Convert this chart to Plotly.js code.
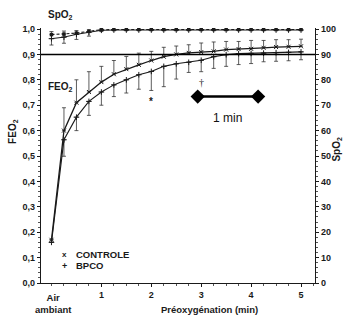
<!DOCTYPE html>
<html>
<head>
<meta charset="utf-8">
<script src="https://cdn.plot.ly/plotly-3.0.1.min.js"></script>
<style>html,body{margin:0;padding:0;background:#fff;}#chart{width:344px;height:320px;}</style>
</head>
<body>
<div id="chart"></div>
<script>
// Time points (min); 0 = "Air ambiant"
const times = [0, 0.25, 0.5, 0.75, 1, 1.25, 1.5, 1.75, 2, 2.25, 2.5, 2.75, 3, 3.25, 3.5, 3.75, 4, 4.25, 4.5, 4.75, 5];

// FEO2 - CONTROLE
const feoControle = [0.17, 0.60, 0.71, 0.752, 0.791, 0.822, 0.842, 0.859, 0.876, 0.891, 0.900, 0.906, 0.909, 0.912, 0.919, 0.921, 0.922, 0.926, 0.929, 0.930, 0.932];
const feoControleErr = [0, 0.09, 0.09, 0.08, 0.062, 0.054, 0.05, 0.046, 0.036, 0.037, 0.033, 0.032, 0.036, 0.037, 0.032, 0.03, 0.033, 0.029, 0.029, 0.028, 0.028];

// FEO2 - BPCO
const feoBpco = [0.16, 0.564, 0.653, 0.715, 0.752, 0.78, 0.80, 0.82, 0.833, 0.853, 0.863, 0.869, 0.877, 0.891, 0.899, 0.903, 0.904, 0.905, 0.907, 0.908, 0.910];
const feoBpcoErr = [0, 0.065, 0.053, 0.055, 0.052, 0.046, 0.052, 0.057, 0.075, 0.08, 0.06, 0.04, 0.045, 0.046, 0.046, 0.043, 0.04, 0.034, 0.034, 0.033, 0.031];

// SpO2 (%)
const spoControle = [97.8, 98.0, 98.4, 99.1, 99.7, 99.8, 99.8, 99.8, 99.8, 99.8, 99.8, 99.8, 99.8, 99.8, 99.8, 99.8, 99.8, 99.8, 99.8, 99.8, 99.8];
const spoControleErr = [1.2, 1.2, 1.0, 0.6, 0.2, 0, 0, 0, 0, 0, 0, 0, 0, 0, 0, 0, 0, 0, 0, 0, 0];
const spoBpco = [96.2, 96.8, 97.9, 98.7, 99.5, 99.6, 99.6, 99.6, 99.6, 99.6, 99.6, 99.6, 99.6, 99.6, 99.6, 99.6, 99.6, 99.6, 99.6, 99.6, 99.6];
const spoBpcoErr = [2.5, 2.4, 2.0, 1.5, 0.5, 0, 0, 0, 0, 0, 0, 0, 0, 0, 0, 0, 0, 0, 0, 0, 0];

// Scale bar "1 min"
const scaleX = [2.93, 4.14];
const scaleY = [0.734, 0.734];

// Ticks
const yTickVals = [0, 0.1, 0.2, 0.3, 0.4, 0.5, 0.6, 0.7, 0.8, 0.9, 1.0];
const yTickText = ["0,0", "0,1", "0,2", "0,3", "0,4", "0,5", "0,6", "0,7", "0,8", "0,9", "1,0"];
const y2TickVals = [0, 10, 20, 30, 40, 50, 60, 70, 80, 90, 100];
const xTickVals = [1, 2, 3, 4, 5];
const legendNames = ["CONTROLE", "BPCO"];
const legendKeys = ["x", "+"];

const zeros = times.map(() => 0);
const ink = "#1a1a1a";
const narrow = "Liberation Sans Narrow, Arial Narrow, Liberation Sans, Arial, sans-serif";
const bold = {family: narrow, size: 9, color: ink, weight: "bold"};

const traces = [
  {x: times, y: feoControle, type: "scatter", mode: "lines+markers", name: legendNames[0],
   line: {color: ink, width: 1.3}, marker: {symbol: "x-thin-open", size: 4, color: ink, line: {width: 1, color: ink}},
   error_y: {type: "data", symmetric: false, array: feoControleErr, arrayminus: zeros, color: "#333", thickness: 0.8, width: 2}},
  {x: times, y: feoBpco, type: "scatter", mode: "lines+markers", name: legendNames[1],
   line: {color: ink, width: 1.1}, marker: {symbol: "cross-thin-open", size: 4, color: ink, line: {width: 1, color: ink}},
   error_y: {type: "data", symmetric: false, array: zeros, arrayminus: feoBpcoErr, color: "#333", thickness: 0.8, width: 2}},
  {x: times, y: spoControle, yaxis: "y2", type: "scatter", mode: "lines+markers", name: legendNames[0],
   line: {color: ink, width: 1.1, dash: "3px,2px"}, marker: {symbol: "square", size: 3.5, color: ink},
   error_y: {type: "data", symmetric: false, array: spoControleErr, arrayminus: zeros, color: "#333", thickness: 0.8, width: 2}},
  {x: times, y: spoBpco, yaxis: "y2", type: "scatter", mode: "lines+markers", name: legendNames[1],
   line: {color: ink, width: 1.0}, marker: {symbol: "cross-thin-open", size: 4, color: ink, line: {width: 1, color: ink}},
   error_y: {type: "data", symmetric: false, array: zeros, arrayminus: spoBpcoErr, color: "#333", thickness: 0.8, width: 2}},
  {x: scaleX, y: scaleY, type: "scatter", mode: "lines+markers", hoverinfo: "skip",
   line: {color: "#000", width: 2.5}, marker: {symbol: "diamond", size: 11, color: "#000"}}
];

const lblFont = (s) => ({family: narrow, size: s, color: ink, weight: "bold"});

const annotations = [
  {text: "SpO<sub>2</sub>", xref: "paper", yref: "paper", x: 0.072, y: 1.05, xanchor: "center", yanchor: "middle", showarrow: false, font: lblFont(10)},
  {text: "FEO<sub>2</sub>", xref: "paper", yref: "paper", x: 0.072, y: 0.77, xanchor: "center", yanchor: "middle", showarrow: false, font: lblFont(10)},
  {text: "FEO<sub>2</sub>", xref: "paper", yref: "paper", x: -0.1, y: 0.595, xanchor: "center", yanchor: "middle", textangle: -90, showarrow: false, font: lblFont(10)},
  {text: "SpO<sub>2</sub>", xref: "paper", yref: "paper", x: 1.082, y: 0.525, xanchor: "center", yanchor: "middle", textangle: -90, showarrow: false, font: lblFont(10)},
  {text: "Préoxygénation (min)", xref: "paper", yref: "paper", x: 0.615, y: -0.105, xanchor: "center", yanchor: "middle", showarrow: false, font: lblFont(9.5)},
  {text: "Air<br>ambiant", xref: "x", yref: "paper", x: 0.05, y: -0.028, xanchor: "center", yanchor: "top", showarrow: false, font: lblFont(9.5)},
  {text: "1 min", xref: "x", yref: "y", x: 3.53, y: 0.65, xanchor: "center", yanchor: "middle", showarrow: false, font: {family: "Liberation Sans, Arial, sans-serif", size: 12, color: "#111"}},
  {text: "*", xref: "x", yref: "y", x: 2.0, y: 0.715, xanchor: "center", yanchor: "middle", showarrow: false, font: lblFont(10)},
  {text: "†", xref: "x", yref: "y", x: 3.0, y: 0.79, xanchor: "center", yanchor: "middle", showarrow: false, font: {family: "Liberation Serif, serif", size: 10, color: ink}}
];
// Legend (keys + labels)
const legendY = [0.114, 0.067];
legendNames.forEach((n, i) => {
  annotations.push({text: legendKeys[i], xref: "x", yref: "y", x: 0.27, y: legendY[i], xanchor: "center", yanchor: "middle", showarrow: false, font: lblFont(i === 0 ? 8 : 9)});
  annotations.push({text: n, xref: "x", yref: "y", x: 0.45, y: legendY[i], xanchor: "left", yanchor: "middle", showarrow: false, font: lblFont(9.5)});
});

const layout = {
  width: 344, height: 320,
  margin: {l: 41, r: 29, t: 28, b: 37},
  paper_bgcolor: "#fff", plot_bgcolor: "#fff",
  font: {family: narrow, color: ink},
  showlegend: false,
  xaxis: {range: [-0.21, 5.28], showgrid: false, zeroline: false, showline: true, linecolor: ink, linewidth: 1.2,
          tickmode: "array", tickvals: xTickVals, ticks: "outside", ticklen: 3, tickcolor: ink,
          minor: {dtick: 0.25, ticks: "outside", ticklen: 2, tickcolor: "#555"},
          tickfont: bold},
  yaxis: {range: [0, 1.004], showgrid: false, zeroline: false, showline: true, linecolor: ink, linewidth: 1.2,
          tickmode: "array", tickvals: yTickVals, ticktext: yTickText, ticks: "outside", ticklen: 3, tickcolor: ink,
          minor: {dtick: 0.02, ticks: "outside", ticklen: 1.5, tickcolor: "#555"},
          tickfont: bold},
  yaxis2: {range: [0, 100.4], overlaying: "y", side: "right", showgrid: false, zeroline: false, showline: true,
           linecolor: ink, linewidth: 1.2, tickmode: "array", tickvals: y2TickVals, ticks: "outside", ticklen: 3,
           tickcolor: ink, minor: {dtick: 2, ticks: "outside", ticklen: 1.5, tickcolor: "#555"}, tickfont: bold},
  shapes: [
    {type: "line", xref: "paper", x0: 0, x1: 1, yref: "y", y0: 0.9, y1: 0.9, line: {color: "#000", width: 1.5}}
  ],
  annotations: annotations
};

Plotly.newPlot("chart", traces, layout, {displayModeBar: false, staticPlot: true});
</script>
</body>
</html>
